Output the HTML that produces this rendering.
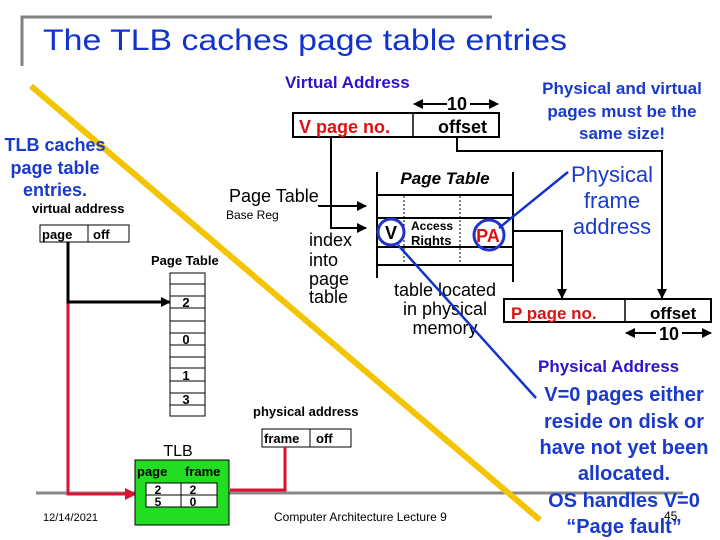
<!DOCTYPE html>
<html><head><meta charset="utf-8"><style>
html,body{margin:0;padding:0;background:#fff;width:720px;height:540px;overflow:hidden}
svg{display:block;font-family:"Liberation Sans",sans-serif}
</style></head><body>
<svg width="720" height="540" viewBox="0 0 720 540" xmlns="http://www.w3.org/2000/svg">
<defs>
<marker id="ab" markerWidth="10" markerHeight="10" refX="9" refY="5" orient="auto" markerUnits="userSpaceOnUse"><path d="M0,0 L10,5 L0,10 z" fill="#000"/></marker>
<marker id="ar" markerWidth="12" markerHeight="12" refX="11" refY="6" orient="auto" markerUnits="userSpaceOnUse"><path d="M0,0 L12,6 L0,12 z" fill="#dd1133"/></marker>
</defs>
<path d="M22,66 V17 H492" fill="none" stroke="#808080" stroke-width="3"/>
<text x="43" y="50" font-size="30" fill="#1133cc" textLength="524" lengthAdjust="spacingAndGlyphs">The TLB caches page table entries</text>
<line x1="36" y1="493" x2="683" y2="493" stroke="#888" stroke-width="3"/>

<text x="285" y="88" font-size="17" font-weight="bold" fill="#3311cc">Virtual Address</text>
<line x1="425" y1="104" x2="414" y2="104" stroke="#000" stroke-width="2" marker-end="url(#ab)"/>
<line x1="470" y1="104" x2="498" y2="104" stroke="#000" stroke-width="2" marker-end="url(#ab)"/>
<line x1="425" y1="104" x2="447" y2="104" stroke="#000" stroke-width="2"/>
<text x="457" y="110" font-size="18" font-weight="bold" text-anchor="middle">10</text>
<rect x="293" y="113" width="206" height="24" fill="#fff" stroke="#000" stroke-width="2"/>
<line x1="413" y1="113" x2="413" y2="137" stroke="#000" stroke-width="1.5"/>
<text x="299" y="133" font-size="18" font-weight="bold" fill="#dd1111">V page no.</text>
<text x="438" y="133" font-size="18" font-weight="bold">offset</text>
<path d="M331,137 V228 H366" fill="none" stroke="#000" stroke-width="2" marker-end="url(#ab)"/>
<line x1="318" y1="206" x2="366" y2="206" stroke="#000" stroke-width="2" marker-end="url(#ab)"/>
<text x="229" y="202" font-size="18">Page Table</text>
<text x="226" y="219" font-size="12">Base Reg</text>
<text font-size="18"><tspan x="309" y="246">index</tspan><tspan x="309" y="266">into</tspan><tspan x="309" y="285">page</tspan><tspan x="309" y="303">table</tspan></text>
<line x1="377" y1="172" x2="377" y2="278" stroke="#000" stroke-width="2"/>
<line x1="513" y1="172" x2="513" y2="282" stroke="#000" stroke-width="2"/>
<line x1="377" y1="195" x2="513" y2="195" stroke="#000" stroke-width="2"/>
<line x1="377" y1="218" x2="513" y2="218" stroke="#000" stroke-width="2"/>
<line x1="377" y1="247" x2="513" y2="247" stroke="#000" stroke-width="2"/>
<line x1="377" y1="265" x2="513" y2="265" stroke="#000" stroke-width="2"/>
<line x1="404" y1="196" x2="404" y2="262" stroke="#000" stroke-width="1" stroke-dasharray="2,2"/>
<line x1="460" y1="196" x2="460" y2="262" stroke="#000" stroke-width="1" stroke-dasharray="2,2"/>
<text x="445" y="184" font-size="17" font-weight="bold" font-style="italic" text-anchor="middle">Page Table</text>
<text x="411" y="230" font-size="12" font-weight="bold">Access</text>
<text x="411" y="245" font-size="13" font-weight="bold">Rights</text>
<text x="391" y="239" font-size="18" font-weight="bold" text-anchor="middle">V</text>
<circle cx="391" cy="232" r="13" fill="none" stroke="#2233cc" stroke-width="3"/>
<text x="488" y="242" font-size="18" font-weight="bold" fill="#dd1111" text-anchor="middle">PA</text>
<circle cx="489" cy="235" r="15" fill="none" stroke="#2233cc" stroke-width="3"/>
<path d="M513,231 H562 V298" fill="none" stroke="#000" stroke-width="2" marker-end="url(#ab)"/>
<path d="M457,137 V151 H662 V298" fill="none" stroke="#000" stroke-width="2" marker-end="url(#ab)"/>
<text font-size="18" text-anchor="middle"><tspan x="445" y="296">table located</tspan><tspan x="445" y="315">in physical</tspan><tspan x="445" y="334">memory</tspan></text>
<rect x="504" y="299" width="207" height="23" fill="#fff" stroke="#000" stroke-width="2"/>
<line x1="625" y1="299" x2="625" y2="322" stroke="#000" stroke-width="1.5"/>
<text x="511" y="319" font-size="17" font-weight="bold" fill="#dd1111">P page no.</text>
<text x="650" y="319" font-size="17" font-weight="bold">offset</text>
<line x1="636" y1="333" x2="626" y2="333" stroke="#000" stroke-width="2" marker-end="url(#ab)"/>
<line x1="636" y1="333" x2="656" y2="333" stroke="#000" stroke-width="2"/>
<line x1="682" y1="333" x2="711" y2="333" stroke="#000" stroke-width="2" marker-end="url(#ab)"/>
<text x="669" y="340" font-size="18" font-weight="bold" text-anchor="middle">10</text>
<text x="538" y="372" font-size="17" font-weight="bold" fill="#3311cc">Physical Address</text>
<text font-size="17" font-weight="bold" fill="#1a3acc" text-anchor="middle"><tspan x="622" y="94">Physical and virtual</tspan><tspan x="622" y="117">pages must be the</tspan><tspan x="622" y="139">same size!</tspan></text>
<text font-size="22" fill="#1a3acc" text-anchor="middle"><tspan x="612" y="182">Physical</tspan><tspan x="612" y="208">frame</tspan><tspan x="612" y="234">address</tspan></text>
<text font-size="20" font-weight="bold" fill="#1a3acc" text-anchor="middle"><tspan x="624" y="401">V=0  pages either</tspan><tspan x="624" y="428">reside on disk or</tspan><tspan x="624" y="454">have not yet been</tspan><tspan x="624" y="480">allocated.</tspan><tspan x="624" y="507">OS handles V=0</tspan><tspan x="624" y="533">“Page fault”</tspan></text>
<line x1="568" y1="172" x2="499" y2="228" stroke="#1133cc" stroke-width="2.5"/>
<line x1="398" y1="245" x2="536" y2="398" stroke="#1133cc" stroke-width="2.5"/>
<line x1="31" y1="86" x2="540" y2="520" stroke="#f5c400" stroke-width="6"/>

<text font-size="18" font-weight="bold" fill="#1a3acc" text-anchor="middle"><tspan x="55" y="151">TLB caches</tspan><tspan x="55" y="174">page table</tspan><tspan x="55" y="196">entries.</tspan></text>
<text x="32" y="213" font-size="13" font-weight="bold">virtual address</text>
<rect x="40" y="225" width="89" height="17" fill="#fff" stroke="#000"/>
<line x1="88" y1="225" x2="88" y2="242" stroke="#000"/>
<text x="42" y="239" font-size="13" font-weight="bold">page</text>
<text x="93" y="239" font-size="13" font-weight="bold">off</text>
<path d="M68,302 V494 H136" fill="none" stroke="#dd1133" stroke-width="3" marker-end="url(#ar)"/>
<path d="M68,242 V302 H170" fill="none" stroke="#000" stroke-width="3" marker-end="url(#ab)"/>
<text x="151" y="265" font-size="13" font-weight="bold">Page Table</text>
<rect x="170" y="273" width="35" height="143" fill="#fff" stroke="#000"/>
<g stroke="#000"><line x1="170" y1="284" x2="205" y2="284"/><line x1="170" y1="296" x2="205" y2="296"/><line x1="170" y1="308" x2="205" y2="308"/><line x1="170" y1="321" x2="205" y2="321"/><line x1="170" y1="333" x2="205" y2="333"/><line x1="170" y1="345" x2="205" y2="345"/><line x1="170" y1="357" x2="205" y2="357"/><line x1="170" y1="368" x2="205" y2="368"/><line x1="170" y1="381" x2="205" y2="381"/><line x1="170" y1="393" x2="205" y2="393"/><line x1="170" y1="405" x2="205" y2="405"/></g>
<g font-size="13" font-weight="bold" text-anchor="middle"><text x="186" y="307">2</text><text x="186" y="344">0</text><text x="186" y="380">1</text><text x="186" y="404">3</text></g>
<text x="178" y="456" font-size="16" text-anchor="middle">TLB</text>
<rect x="135" y="460" width="94" height="65" fill="#22dd22" stroke="#000"/>
<text x="137" y="476" font-size="13" font-weight="bold">page</text>
<text x="185" y="476" font-size="13" font-weight="bold">frame</text>
<rect x="146" y="483" width="71" height="24" fill="#fff" stroke="#000"/>
<line x1="181" y1="483" x2="181" y2="507" stroke="#000"/>
<line x1="146" y1="495" x2="217" y2="495" stroke="#000"/>
<g font-size="12" font-weight="bold" text-anchor="middle"><text x="158" y="494">2</text><text x="193" y="494">2</text><text x="158" y="506">5</text><text x="193" y="506">0</text></g>
<text x="253" y="416" font-size="13" font-weight="bold">physical address</text>
<rect x="262" y="429" width="89" height="18" fill="#fff" stroke="#000"/>
<line x1="310" y1="429" x2="310" y2="447" stroke="#000"/>
<text x="264" y="443" font-size="13" font-weight="bold">frame</text>
<text x="316" y="443" font-size="13" font-weight="bold">off</text>
<path d="M285,447 V490 H230" fill="none" stroke="#dd1133" stroke-width="3"/>
<text x="43" y="521" font-size="11">12/14/2021</text>
<text x="274" y="521" font-size="12">Computer Architecture Lecture 9</text>
<text x="664" y="520" font-size="12">45</text>
</svg>
</body></html>
